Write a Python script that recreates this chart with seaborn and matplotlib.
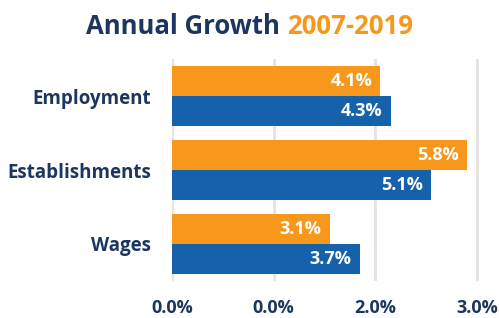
import pandas as pd
import seaborn as sns
import matplotlib.pyplot as plt

# data
categories = ["Employment", "Establishments", "Wages"]
series_names = ["Series A", "Series B"]
orange_vals = [4.1, 5.8, 3.1]
blue_vals = [4.3, 5.1, 3.7]
tick_values = [0, 2, 4, 6]
tick_labels = ["0.0%", "0.0%", "2.0%", "3.0%"]

df = pd.DataFrame({
    "category": categories * 2,
    "series": [series_names[0]] * 3 + [series_names[1]] * 3,
    "growth": orange_vals + blue_vals,
})

sns.set_style("white")
plt.rcParams['font.family'] = ['Open Sans', 'DejaVu Sans']

navy = "#1c3660"
orange = "#f7981d"
blue = "#1561ac"

fig = plt.figure(figsize=(4.99, 3.18), dpi=100)
ax = fig.add_axes([172 / 499, 1 - 281 / 318, 308 / 499, 222 / 318])

sns.barplot(data=df, y="category", x="growth", hue="series",
            palette=[orange, blue], width=0.8, saturation=1,
            linewidth=0, edgecolor="none",
            legend=False, ax=ax, zorder=3)

for cont in ax.containers:
    vals = [f"{p.get_width():.1f}%" for p in cont]
    texts = ax.bar_label(cont, labels=vals, padding=-6, color="white",
                         fontsize=13, fontweight="bold")
    for t in texts:
        t.set_ha("right")

ax.set_xlim(0, 6.06)
ax.set_ylim(2.5, -0.5)
ax.set_xticks(tick_values)
ax.set_xticklabels(tick_labels)
ax.grid(axis="x", color="#e5e5e5", linewidth=2.2, zorder=0)
ax.set_axisbelow(True)
ax.set_xlabel("")
ax.set_ylabel("")
sns.despine(ax=ax, left=True, bottom=True)
ax.tick_params(axis="y", length=0, pad=15, labelsize=13.5, labelcolor=navy)
ax.tick_params(axis="x", length=0, pad=13, labelsize=13, labelcolor=navy)
for lab in ax.get_xticklabels() + ax.get_yticklabels():
    lab.set_fontweight("bold")

# two-colour title, centred on the figure
fig.canvas.draw()
r = fig.canvas.get_renderer()
t1 = fig.text(0, 1 - 34 / 318, "Annual Growth ", fontsize=18.5, fontweight="bold",
              color=navy, va="baseline", ha="left")
t2 = fig.text(0, 1 - 34 / 318, "2007-2019", fontsize=18.5, fontweight="bold",
              color=orange, va="baseline", ha="left")
w1 = t1.get_window_extent(r).width
w2 = t2.get_window_extent(r).width
W = fig.bbox.width
x0 = (W - w1 - w2) / 2
t1.set_x(x0 / W)
t2.set_x((x0 + w1) / W)

fig.savefig("out.png", dpi=100)
